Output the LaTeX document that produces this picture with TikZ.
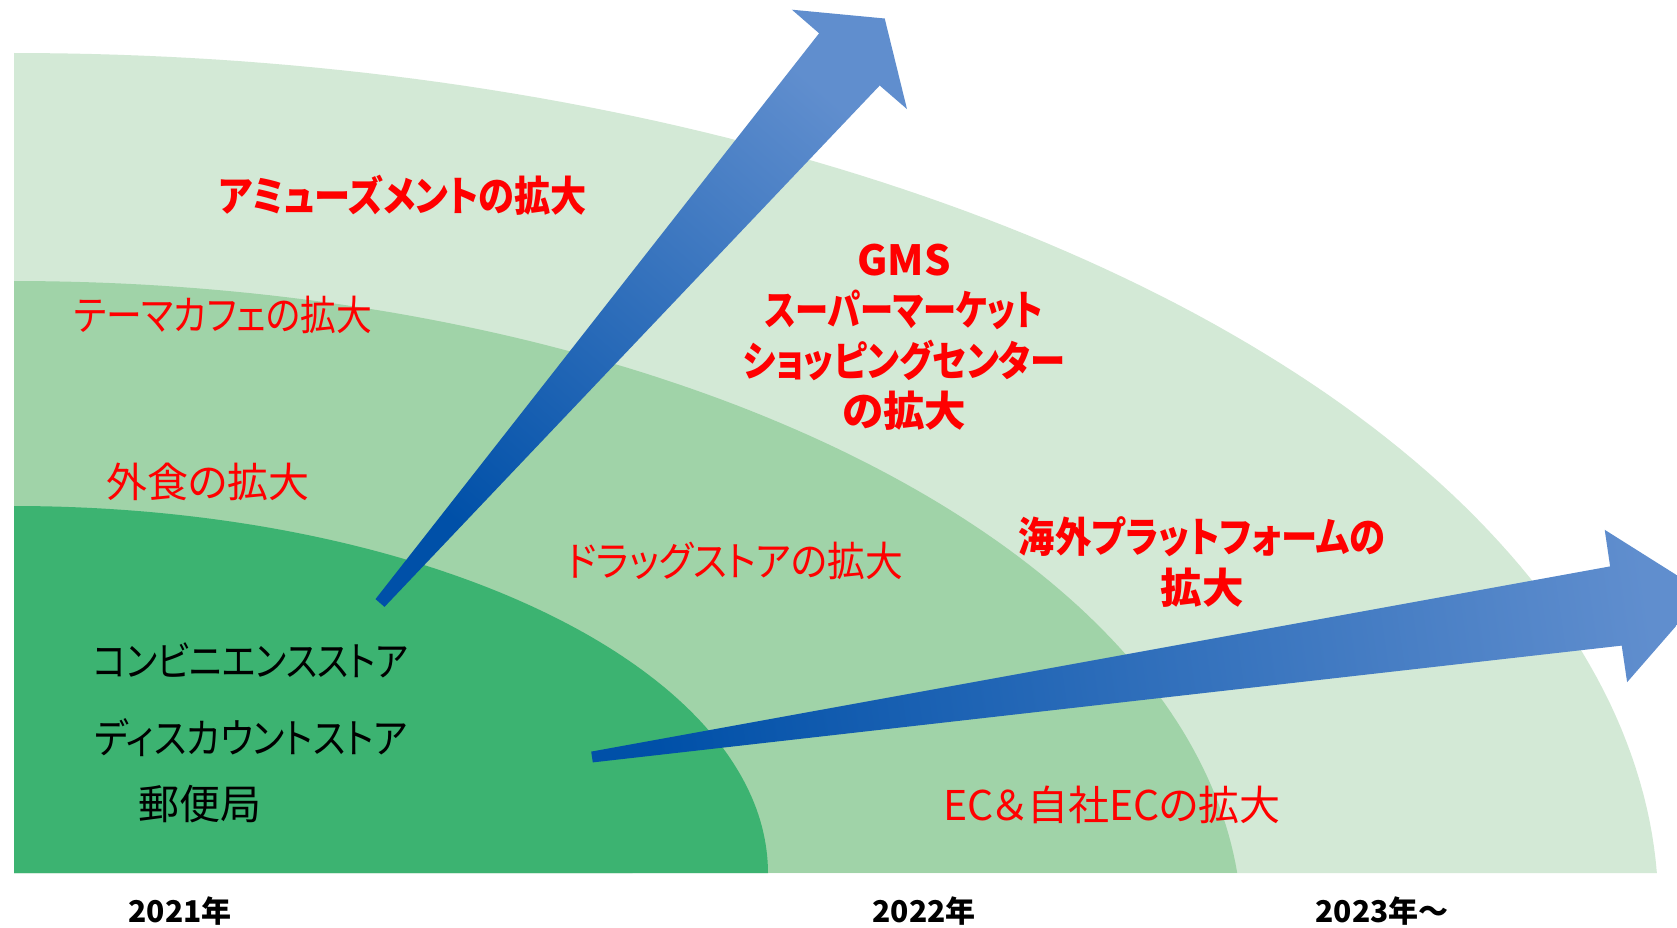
\documentclass[tikz,border=0pt]{standalone}
\usepackage{graphicx}
\usepackage{fontspec}
\newfontfamily\jp{Noto Sans CJK JP}[RawFeature=+palt]
\newcommand\hsq[2]{\scalebox{#1}[1]{#2}}
\definecolor{gin}{RGB}{60,179,113}
\definecolor{gmid}{RGB}{160,211,168}
\definecolor{gout}{RGB}{211,233,214}
\definecolor{atail}{RGB}{0,80,168}
\definecolor{ahead}{RGB}{96,142,206}
\definecolor{txtred}{RGB}{255,0,0}
\tikzset{
  lbl/.style={inner sep=0pt, font=\jp\fontsize{41}{48}\selectfont},
  redr/.style={lbl, text=txtred},
  redb/.style={lbl, text=txtred, align=center, font=\jp\bfseries\fontsize{41.5}{50.5}\selectfont},
  blk/.style={lbl, text=black},
  yr/.style={inner sep=0pt, text=black, font=\jp\bfseries\fontsize{30}{36}\selectfont},
  arrowup/.style={top color=ahead, bottom color=atail, shading angle=-40.8},
  arrowright/.style={top color=ahead, bottom color=atail, shading angle=-81.6}
}
\begin{document}
\begin{tikzpicture}[x=1pt,y=-1pt]
\useasboundingbox (0,0) rectangle (1677,928);
\fill[white] (0,0) rectangle (1677,928);
\clip (0,0) rectangle (1677,928);
% bands
\fill[gout] (14,873) -- plot[domain=0:87.53, samples=100] ({14+1644.5*sin(\x)},{910-857*cos(\x)}) -- cycle;
\fill[gmid] (14,873) -- plot[domain=0:84.96, samples=100] ({14+1228*sin(\x)},{930-649*cos(\x)}) -- cycle;
\fill[gin] (14,873) -- plot[domain=0:90, samples=100] ({14+754*sin(\x)},{873-367*cos(\x)}) -- cycle;
% arrows
\shade[arrowup] (375.5,599.1) -- (819.1,33.3) -- (791.9,9.7) -- (884.7,18.5) -- (907.0,109.1) -- (879.7,85.5) -- (384.5,606.9) -- cycle;
\shade[arrowright] (591.2,751.6) -- (1610.1,566.4) -- (1604.7,529.8) -- (1704.9,592.9) -- (1627.1,682.2) -- (1621.7,645.6) -- (592.8,762.4) -- cycle;
% labels
\node[redb] (amuse) at (403,195) {\hsq{0.872}{アミューズメントの拡大}};
\node[redb] (gms) at (904,337) {GMS\\\hsq{0.80}{スーパーマーケット}\\\hsq{0.85}{ショッピングセンター}\\の拡大};
\node[redb] (kaigai) at (1202,562) {\hsq{0.876}{海外プラットフォームの}\\拡大};
\node[redr] (theme) at (223,315) {\hsq{0.873}{テーマカフェの拡大}};
\node[redr] (gaishoku) at (208,482) {外食の拡大};
\node[redr] (drug) at (735,561) {\hsq{0.921}{ドラッグストアの拡大}};
\node[redr] (ec) at (1112,805) {EC＆自社ECの拡大};
\node[blk] (conv) at (251,660) {\hsq{0.854}{コンビニエンスストア}};
\node[blk] (disc) at (251,738) {\hsq{0.884}{ディスカウントストア}};
\node[blk] (post) at (200,804) {郵便局};
\node[yr] (y1) at (180,911) {2021年};
\node[yr] (y2) at (924,911) {2022年};
\node[yr] (y3) at (1382,911) {2023年～};
\end{tikzpicture}
\end{document}
